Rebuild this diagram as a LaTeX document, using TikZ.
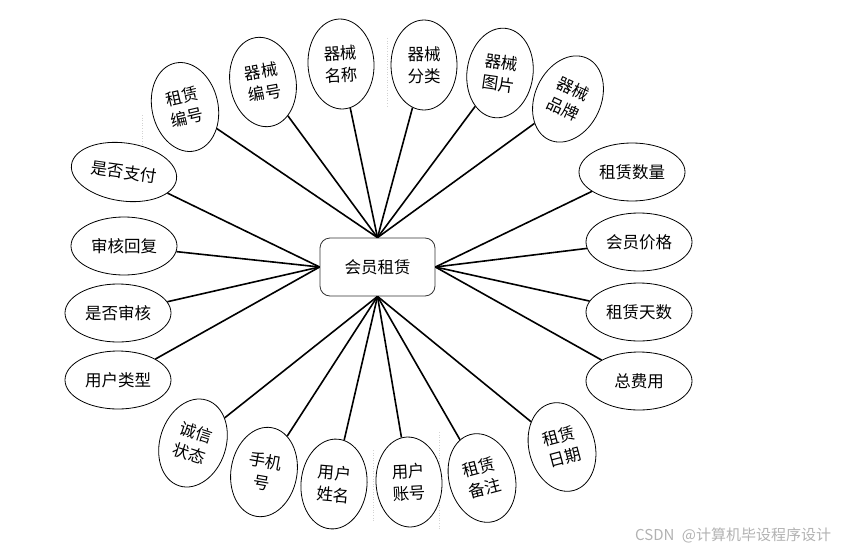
\documentclass[tikz,border=0pt]{standalone}
\usepackage{fontspec}
\newfontfamily\cjk{Noto Sans CJK SC}
\usetikzlibrary{shapes.geometric}
\begin{document}
\begin{tikzpicture}[x=1pt,y=-1pt,
  attr/.style={draw=black,line width=0.8pt,ellipse,inner sep=0pt,fill=white,
    minimum width=66pt,minimum height=90pt,align=center,
    font=\cjk\fontsize{16.5}{22}\selectfont},
  wide/.style={attr,minimum width=106pt,minimum height=58pt},
  ent/.style={draw=black!80,line width=0.8pt,rounded corners=10pt,fill=white,
    minimum width=115pt,minimum height=58pt,font=\cjk\fontsize{16.5}{22}\selectfont},
  link/.style={line width=1.6pt,black},
  pageline/.style={gray!35,dotted,line width=0.6pt}]
\useasboundingbox (0,0) rectangle (842,551);
% faint page borders
\draw[pageline] (142,115) -- (142,165);
\draw[pageline] (387,38) -- (387,107);
\draw[pageline] (373,450) -- (373,522);
\draw[pageline] (439,432) -- (439,530);
% entity
\node[ent] (c) at (377.5,267) {会员租赁};
% top
\node[attr,rotate=13] (a1) at (185,107) {租赁\\编号};
\node[attr,rotate=10] (a2) at (263,82) {器械\\编号};
\node[attr,rotate=3] (a3) at (341,64) {器械\\名称};
\node[attr] (a4) at (424,65) {器械\\分类};
\node[attr,rotate=-8] (a5) at (500,73) {器械\\图片};
\node[attr,rotate=-25] (a6) at (568,99) {器械\\品牌};
% left
\node[wide,rotate=-8] (l1) at (124,172) {是否支付};
\node[wide] (l2) at (124,246) {审核回复};
\node[wide] (l3) at (118,313) {是否审核};
\node[wide] (l4) at (118,380) {用户类型};
% right
\node[wide] (r1) at (632,172) {租赁数量};
\node[wide] (r2) at (639,242) {会员价格};
\node[wide] (r3) at (639,312) {租赁天数};
\node[wide] (r4) at (639,381) {总费用};
% bottom
\node[attr,rotate=-18] (b1) at (193,443) {诚信\\状态};
\node[attr,rotate=-10] (b2) at (264,472) {手机\\号};
\node[attr,rotate=-5] (b3) at (334,484) {用户\\姓名};
\node[attr,rotate=3] (b4) at (409,482) {用户\\账号};
\node[attr,rotate=15] (b5) at (482,478) {租赁\\备注};
\node[attr,rotate=15] (b6) at (562,447) {租赁\\日期};
% links
\foreach \n in {a1,a2,a3,a4,a5,a6} \draw[link] (c.north) -- (\n);
\foreach \n in {l1,l2,l3,l4} \draw[link] (c.west) -- (\n);
\foreach \n in {r1,r2,r3,r4} \draw[link] (c.east) -- (\n);
\foreach \n in {b1,b2,b3,b4,b5,b6} \draw[link] (c.south) -- (\n);
% watermark
\node[anchor=west,inner sep=0pt,text=black!30,font=\cjk\fontsize{15}{17}\selectfont] (wm) at (635,535) {CSDN\enspace@计算机毕设程序设计};
\end{tikzpicture}
\end{document}
